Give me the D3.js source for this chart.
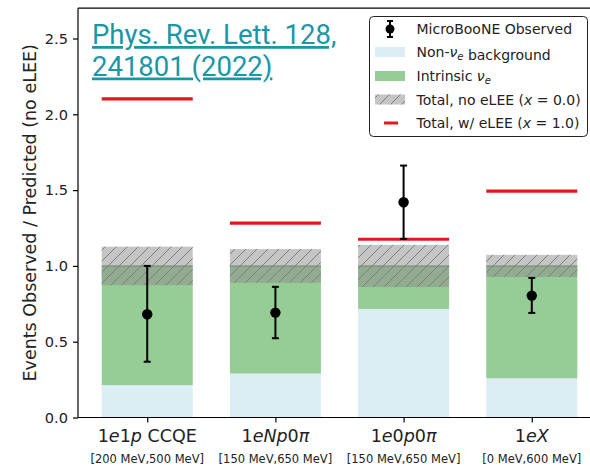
<!DOCTYPE html>
<html>
<head>
<meta charset="utf-8">
<script src="https://cdn.jsdelivr.net/npm/d3@7"></script>
<style>
  body { margin: 0; background: #fff; }
  svg { display: block; }
</style>
</head>
<body>
<div id="chart"></div>
<script>
// channels, ratio values
var channels = ["1e1p CCQE", "1eNp0pi", "1e0p0pi", "1eX"];
var energyRanges = ["[200 MeV,500 MeV]", "[150 MeV,650 MeV]", "[150 MeV,650 MeV]", "[0 MeV,600 MeV]"];
var nonNueBkg = [0.214, 0.290, 0.716, 0.258];
var intrinsicNue = [0.786, 0.710, 0.284, 0.742];
var sysUnc = [0.127, 0.111, 0.139, 0.073];
var observed = [0.681, 0.692, 1.420, 0.804];
var obsErrHi = [1.000, 0.862, 1.662, 0.921];
var obsErrLo = [0.368, 0.523, 1.178, 0.690];
var withLEE = [2.102, 1.282, 1.176, 1.493];
var yTicks = [0.0, 0.5, 1.0, 1.5, 2.0, 2.5];

var width = 590, height = 467;
var barW = 0.71;

var svg = d3.select("#chart").append("svg")
    .attr("width", width)
    .attr("height", height)
    .style("font-family", "'DejaVu Sans', sans-serif");

var x = d3.scaleLinear().domain([-0.54, 3.54]).range([78, 601]);
var y = d3.scaleLinear().domain([0, 2.7]).range([417.5, 8.2]);

// hatch pattern for the uncertainty band
var defs = svg.append("defs");
var pat = defs.append("pattern")
    .attr("id", "hatch")
    .attr("patternUnits", "userSpaceOnUse")
    .attr("width", 11).attr("height", 11);
pat.append("path")
    .attr("d", "M-1,12 L12,-1 M-3,3 L3,-3 M8,14 L14,8")
    .attr("stroke", "#7f7f7f")
    .attr("stroke-width", 1);

var idx = d3.range(channels.length);

// non-nue background
svg.selectAll("rect.bkg")
    .data(idx)
    .enter()
    .append("rect")
    .attr("class", "bkg")
    .attr("x", function (i) { return x(i - barW / 2); })
    .attr("width", x(barW) - x(0))
    .attr("y", function (i) { return y(nonNueBkg[i]); })
    .attr("height", function (i) { return y(0) - y(nonNueBkg[i]); })
    .attr("fill", "#dcedf3");

// intrinsic nue stacked on top
svg.selectAll("rect.nue")
    .data(idx)
    .enter()
    .append("rect")
    .attr("class", "nue")
    .attr("x", function (i) { return x(i - barW / 2); })
    .attr("width", x(barW) - x(0))
    .attr("y", function (i) { return y(nonNueBkg[i] + intrinsicNue[i]); })
    .attr("height", function (i) { return y(nonNueBkg[i]) - y(nonNueBkg[i] + intrinsicNue[i]); })
    .attr("fill", "#96cd96");

// total prediction uncertainty band
svg.selectAll("rect.unc")
    .data(idx)
    .enter()
    .append("rect")
    .attr("class", "unc")
    .attr("x", function (i) { return x(i - barW / 2); })
    .attr("width", x(barW) - x(0))
    .attr("y", function (i) { return y(1 + sysUnc[i]); })
    .attr("height", function (i) { return y(1 - sysUnc[i]) - y(1 + sysUnc[i]); })
    .attr("fill", "#8c8c8c")
    .attr("fill-opacity", 0.5);
svg.selectAll("rect.hatch")
    .data(idx)
    .enter()
    .append("rect")
    .attr("class", "hatch")
    .attr("x", function (i) { return x(i - barW / 2); })
    .attr("width", x(barW) - x(0))
    .attr("y", function (i) { return y(1 + sysUnc[i]); })
    .attr("height", function (i) { return y(1 - sysUnc[i]) - y(1 + sysUnc[i]); })
    .attr("fill", "url(#hatch)");
svg.selectAll("line.one")
    .data(idx)
    .enter()
    .append("line")
    .attr("class", "one")
    .attr("x1", function (i) { return x(i - barW / 2); })
    .attr("x2", function (i) { return x(i + barW / 2); })
    .attr("y1", y(1)).attr("y2", y(1))
    .attr("stroke", "#6f7f6f")
    .attr("stroke-width", 1.5)
    .attr("stroke-opacity", 0.6);

// prediction with eLEE
svg.selectAll("line.lee")
    .data(idx)
    .enter()
    .append("line")
    .attr("class", "lee")
    .attr("x1", function (i) { return x(i - barW / 2); })
    .attr("x2", function (i) { return x(i + barW / 2); })
    .attr("y1", function (i) { return y(withLEE[i]); })
    .attr("y2", function (i) { return y(withLEE[i]); })
    .attr("stroke", "#e8161b")
    .attr("stroke-width", 3.2);

// observed data with error bars
var obs = svg.selectAll("g.obs")
    .data(idx)
    .enter()
    .append("g")
    .attr("class", "obs");
obs.append("line")
    .attr("x1", function (i) { return x(i); })
    .attr("x2", function (i) { return x(i); })
    .attr("y1", function (i) { return y(obsErrLo[i]); })
    .attr("y2", function (i) { return y(obsErrHi[i]); })
    .attr("stroke", "#000").attr("stroke-width", 2);
obs.append("line")
    .attr("x1", function (i) { return x(i) - 3.5; })
    .attr("x2", function (i) { return x(i) + 3.5; })
    .attr("y1", function (i) { return y(obsErrLo[i]); })
    .attr("y2", function (i) { return y(obsErrLo[i]); })
    .attr("stroke", "#000").attr("stroke-width", 2);
obs.append("line")
    .attr("x1", function (i) { return x(i) - 3.5; })
    .attr("x2", function (i) { return x(i) + 3.5; })
    .attr("y1", function (i) { return y(obsErrHi[i]); })
    .attr("y2", function (i) { return y(obsErrHi[i]); })
    .attr("stroke", "#000").attr("stroke-width", 2);
obs.append("circle")
    .attr("cx", function (i) { return x(i); })
    .attr("cy", function (i) { return y(observed[i]); })
    .attr("r", 5.2)
    .attr("fill", "#000");

// axes
var yAxis = d3.axisLeft(y)
    .tickValues(yTicks)
    .tickFormat(d3.format(".1f"))
    .tickSize(5)
    .tickPadding(5);
var gy = svg.append("g")
    .attr("transform", "translate(78,0)")
    .call(yAxis);
gy.select(".domain").attr("d", "M0," + y(0) + "V" + y(2.7)).attr("stroke-width", 1.2);
gy.selectAll(".tick line").attr("stroke-width", 1.2);
gy.selectAll(".tick text")
    .style("font-size", "14.6px")
    .style("font-family", "'DejaVu Sans', sans-serif")
    .attr("fill", "#222");

var xAxis = d3.axisBottom(x)
    .tickValues(idx)
    .tickFormat("")
    .tickSize(5);
var gx = svg.append("g")
    .attr("transform", "translate(0," + y(0) + ")")
    .call(xAxis);
gx.select(".domain").attr("d", "M78,0H600").attr("stroke-width", 1.2);
gx.selectAll(".tick line").attr("stroke-width", 1.2);

// top spine
svg.append("line")
    .attr("x1", 78).attr("x2", 600)
    .attr("y1", y(2.7)).attr("y2", y(2.7))
    .attr("stroke", "#000").attr("stroke-width", 1.2);

// channel labels, mathtext style: letters italic, digits upright
var chanParts = [
    [["1", 0], ["e", 1], ["1", 0], ["p", 1], [" CCQE", 0]],
    [["1", 0], ["eNp", 1], ["0", 0], ["\u03c0", 1]],
    [["1", 0], ["e", 1], ["0", 0], ["p", 1], ["0", 0], ["\u03c0", 1]],
    [["1", 0], ["eX", 1]]
];
idx.forEach(function (i) {
    var t = svg.append("text")
        .attr("x", x(i))
        .attr("y", 442)
        .attr("text-anchor", "middle")
        .style("font-size", "17.5px")
        .attr("fill", "#222");
    chanParts[i].forEach(function (p) {
        t.append("tspan")
            .style("font-style", p[1] ? "italic" : "normal")
            .style("white-space", "pre")
            .text(p[0]);
    });
    svg.append("text")
        .attr("x", x(i))
        .attr("y", 463)
        .attr("text-anchor", "middle")
        .style("font-size", "11.5px")
        .attr("fill", "#222")
        .text(energyRanges[i]);
});

// y label
svg.append("text")
    .attr("transform", "translate(36," + ((y(0) + y(2.7)) / 2) + ") rotate(-90)")
    .attr("text-anchor", "middle")
    .style("font-size", "17.5px")
    .attr("fill", "#222")
    .text("Events Observed / Predicted (no eLEE)");

// legend
var lg = svg.append("g");
lg.append("rect")
    .attr("x", 369.5).attr("y", 16.5)
    .attr("width", 218).attr("height", 120)
    .attr("rx", 4)
    .attr("fill", "#fff")
    .attr("stroke", "#222")
    .attr("stroke-width", 1);
var rowY = [29, 52, 76, 99.5, 123];
var lx = 375, lw = 30;
// observed handle
lg.append("line").attr("x1", 390).attr("x2", 390).attr("y1", rowY[0] - 8).attr("y2", rowY[0] + 8)
    .attr("stroke", "#000").attr("stroke-width", 2);
lg.append("line").attr("x1", 387).attr("x2", 393).attr("y1", rowY[0] - 8).attr("y2", rowY[0] - 8)
    .attr("stroke", "#000").attr("stroke-width", 2);
lg.append("line").attr("x1", 387).attr("x2", 393).attr("y1", rowY[0] + 8).attr("y2", rowY[0] + 8)
    .attr("stroke", "#000").attr("stroke-width", 2);
lg.append("circle").attr("cx", 390).attr("cy", rowY[0]).attr("r", 4.5).attr("fill", "#000");
lg.append("rect").attr("x", lx).attr("y", rowY[1] - 5).attr("width", lw).attr("height", 10).attr("fill", "#dcedf3");
lg.append("rect").attr("x", lx).attr("y", rowY[2] - 5).attr("width", lw).attr("height", 10).attr("fill", "#96cd96");
lg.append("rect").attr("x", lx).attr("y", rowY[3] - 5).attr("width", lw).attr("height", 10)
    .attr("fill", "#8c8c8c").attr("fill-opacity", 0.5);
lg.append("rect").attr("x", lx).attr("y", rowY[3] - 5).attr("width", lw).attr("height", 10)
    .attr("fill", "url(#hatch)");
lg.append("line").attr("x1", 384).attr("x2", 398).attr("y1", rowY[4]).attr("y2", rowY[4])
    .attr("stroke", "#e8161b").attr("stroke-width", 3);

var legendParts = [
    [["MicroBooNE Observed", 0]],
    [["Non-", 0], ["\u03bd", 1], ["e", 2], [" background", 0]],
    [["Intrinsic ", 0], ["\u03bd", 1], ["e", 2]],
    [["Total, no eLEE (", 0], ["x", 1], [" = 0.0)", 0]],
    [["Total, w/ eLEE (", 0], ["x", 1], [" = 1.0)", 0]]
];
legendParts.forEach(function (parts, k) {
    var t = lg.append("text")
        .attr("x", 416.5)
        .attr("y", rowY[k] + 5)
        .style("font-size", "14px")
        .attr("fill", "#222");
    parts.forEach(function (p) {
        var s = t.append("tspan")
            .style("white-space", "pre")
            .style("font-style", p[1] ? "italic" : "normal")
            .text(p[0]);
        if (p[1] === 2) {
            s.attr("dy", 3).style("font-size", "10px");
        }
    });
});

// citation link overlay
var cite = ["Phys. Rev. Lett. 128,", "241801 (2022)"];
svg.selectAll("text.cite")
    .data(cite)
    .enter()
    .append("text")
    .attr("class", "cite")
    .attr("x", 92)
    .attr("y", function (d, i) { return 44 + i * 31.5; })
    .style("font-family", "Roboto, sans-serif")
    .style("font-size", "27.5px")
    .style("text-decoration", "underline")
    .attr("fill", "#1997a7")
    .text(function (d) { return d; });
</script>
</body>
</html>
